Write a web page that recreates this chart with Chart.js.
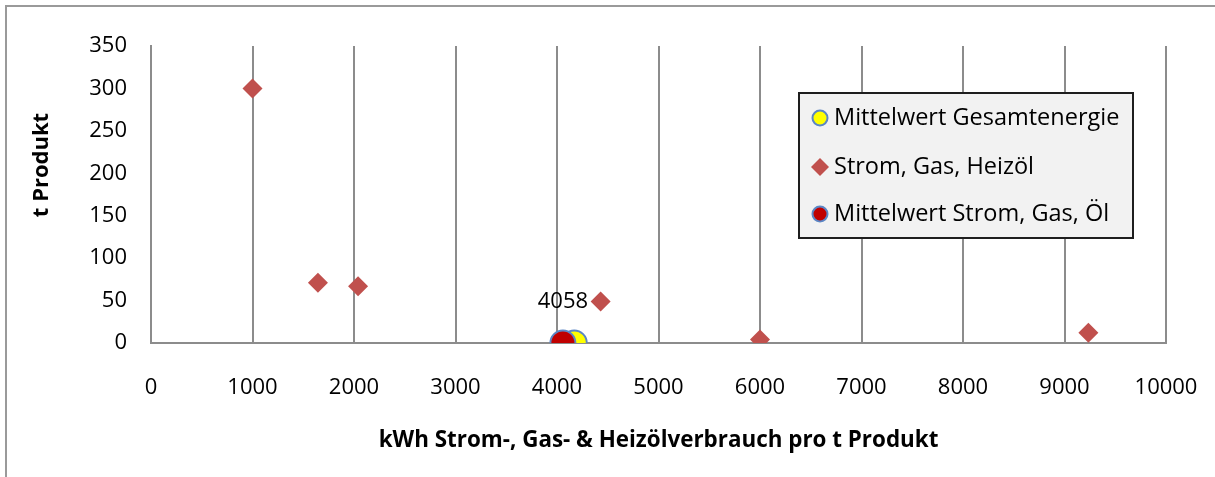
<!DOCTYPE html>
<html>
<head>
<meta charset="utf-8">
<script src="https://cdn.jsdelivr.net/npm/chart.js@4/dist/chart.umd.min.js"></script>
<style>
  html, body { margin: 0; padding: 0; background: #ffffff; }
  #wrap { position: relative; width: 1215px; height: 477px; overflow: hidden; }
  canvas { display: block; }
</style>
</head>
<body>
<div id="wrap"><canvas id="chart" width="1215" height="477"></canvas></div>
<script>
// Series names (legend order)
const seriesNames = ['Mittelwert Gesamtenergie', 'Strom, Gas, Heizöl', 'Mittelwert Strom, Gas, Öl'];

// Einzelwerte: kWh pro t Produkt (x) und t Produkt (y)
const verbrauchKWh = [1000, 1645, 2040, 4430, 6000, 9235];
const produktT     = [300, 71, 67, 49, 4, 12];

// Mittelwerte
const mittelGesamtX = [4170];
const mittelGesamtY = [0];
const mittelSGOX    = [4058];
const mittelSGOY    = [0];

// Axis ranges and tick steps
const xMin = 0, xMax = 10000, xStep = 1000;
const yMin = 0, yMax = 350, yStep = 50;

const xTitle = 'kWh Strom-, Gas- & Heizölverbrauch pro t Produkt';
const yTitle = 't Produkt';

const FONT = "'Open Sans', 'Noto Sans', sans-serif";
const toPoints = (xs, ys) => xs.map((x, i) => ({ x: x, y: ys[i] }));
const plainNumber = v => String(v);

const colors = {
  yellow: '#ffff00',
  diamond: '#c0504d',
  red: '#c00000',
  ring: '#5b86c5',
  grid: '#8c8c8c'
};

// Outer frame, axis titles, value label and legend box
const decorations = {
  id: 'decorations',
  beforeDraw(chart) {
    const ctx = chart.ctx;
    ctx.save();
    ctx.strokeStyle = '#9a9a9a';
    ctx.lineWidth = 2;
    ctx.beginPath();
    ctx.moveTo(6, 477);
    ctx.lineTo(6, 6);
    ctx.lineTo(1215, 6);
    ctx.stroke();
    ctx.restore();
  },
  afterDraw(chart) {
    const ctx = chart.ctx;
    const area = chart.chartArea;
    ctx.save();
    ctx.fillStyle = '#000';

    // axis titles
    ctx.font = "bold 22.4px " + FONT;
    ctx.textAlign = 'center';
    ctx.textBaseline = 'middle';
    ctx.fillText(xTitle, (area.left + area.right) / 2, 441);
    ctx.save();
    ctx.translate(42, 165);
    ctx.rotate(-Math.PI / 2);
    ctx.font = "bold 22px " + FONT;
    ctx.fillText(yTitle, 0, 0);
    ctx.restore();

    // value label above the Strom/Gas/Öl mean
    const meta = chart.getDatasetMeta(2);
    const pt = meta.data[0];
    const val = chart.data.datasets[2].data[0].x;
    ctx.font = "22px " + FONT;
    ctx.fillText(String(val), pt.x, pt.y - 41);

    // legend box
    const lx = 799, ly = 93, lw = 334, lh = 145;
    ctx.fillStyle = '#f2f2f2';
    ctx.fillRect(lx, ly, lw, lh);
    ctx.strokeStyle = '#1e1e1e';
    ctx.lineWidth = 2;
    ctx.strokeRect(lx, ly, lw, lh);

    const rows = [118, 167, 214];
    chart.data.datasets.forEach((ds, i) => {
      const cy = rows[i];
      const cx = 820;
      ctx.beginPath();
      if (ds.pointStyle === 'rectRot') {
        const r = 9;
        ctx.moveTo(cx, cy - r);
        ctx.lineTo(cx + r, cy);
        ctx.lineTo(cx, cy + r);
        ctx.lineTo(cx - r, cy);
        ctx.closePath();
        ctx.fillStyle = ds.backgroundColor;
        ctx.fill();
      } else {
        ctx.arc(cx, cy, 7.5, 0, Math.PI * 2);
        ctx.fillStyle = ds.backgroundColor;
        ctx.fill();
        ctx.lineWidth = 2;
        ctx.strokeStyle = ds.borderColor;
        ctx.stroke();
      }
      ctx.fillStyle = '#000';
      ctx.font = "23.5px " + FONT;
      ctx.textAlign = 'left';
      ctx.textBaseline = 'middle';
      ctx.fillText(ds.label, 834, cy);
    });
    ctx.restore();
  }
};

new Chart(document.getElementById('chart'), {
  type: 'scatter',
  data: {
    datasets: [
      {
        label: seriesNames[0],
        data: toPoints(mittelGesamtX, mittelGesamtY),
        pointStyle: 'circle',
        pointRadius: 12.5,
        pointHoverRadius: 12.5,
        backgroundColor: colors.yellow,
        borderColor: colors.ring,
        borderWidth: 2,
        order: 2
      },
      {
        label: seriesNames[1],
        data: toPoints(verbrauchKWh, produktT),
        pointStyle: 'rectRot',
        pointRadius: 10,
        pointHoverRadius: 10,
        backgroundColor: colors.diamond,
        borderColor: colors.diamond,
        borderWidth: 0,
        order: 1
      },
      {
        label: seriesNames[2],
        data: toPoints(mittelSGOX, mittelSGOY),
        pointStyle: 'circle',
        pointRadius: 12.5,
        pointHoverRadius: 12.5,
        backgroundColor: colors.red,
        borderColor: colors.ring,
        borderWidth: 2,
        order: 0
      }
    ]
  },
  options: {
    responsive: false,
    animation: false,
    devicePixelRatio: 1,
    layout: { padding: { left: 0, right: 49, top: 46, bottom: 0 } },
    plugins: {
      legend: { display: false },
      tooltip: { enabled: false }
    },
    scales: {
      x: {
        type: 'linear',
        min: xMin,
        max: xMax,
        afterFit: s => { s.height = 134; s.paddingLeft = 0; s.paddingRight = 0; },
        ticks: {
          stepSize: xStep,
          callback: plainNumber,
          color: '#000',
          padding: 32,
          maxRotation: 0,
          font: { family: FONT, size: 22 }
        },
        grid: { color: colors.grid, lineWidth: 2, drawTicks: false },
        border: { display: true, color: colors.grid, width: 2 }
      },
      y: {
        type: 'linear',
        min: yMin,
        max: yMax,
        afterFit: s => { s.width = 151; },
        ticks: {
          stepSize: yStep,
          callback: plainNumber,
          color: '#000',
          padding: 24,
          font: { family: FONT, size: 22 }
        },
        grid: { display: false, drawTicks: false },
        border: { display: true, color: colors.grid, width: 2 }
      }
    }
  },
  plugins: [decorations]
});
</script>
</body>
</html>
